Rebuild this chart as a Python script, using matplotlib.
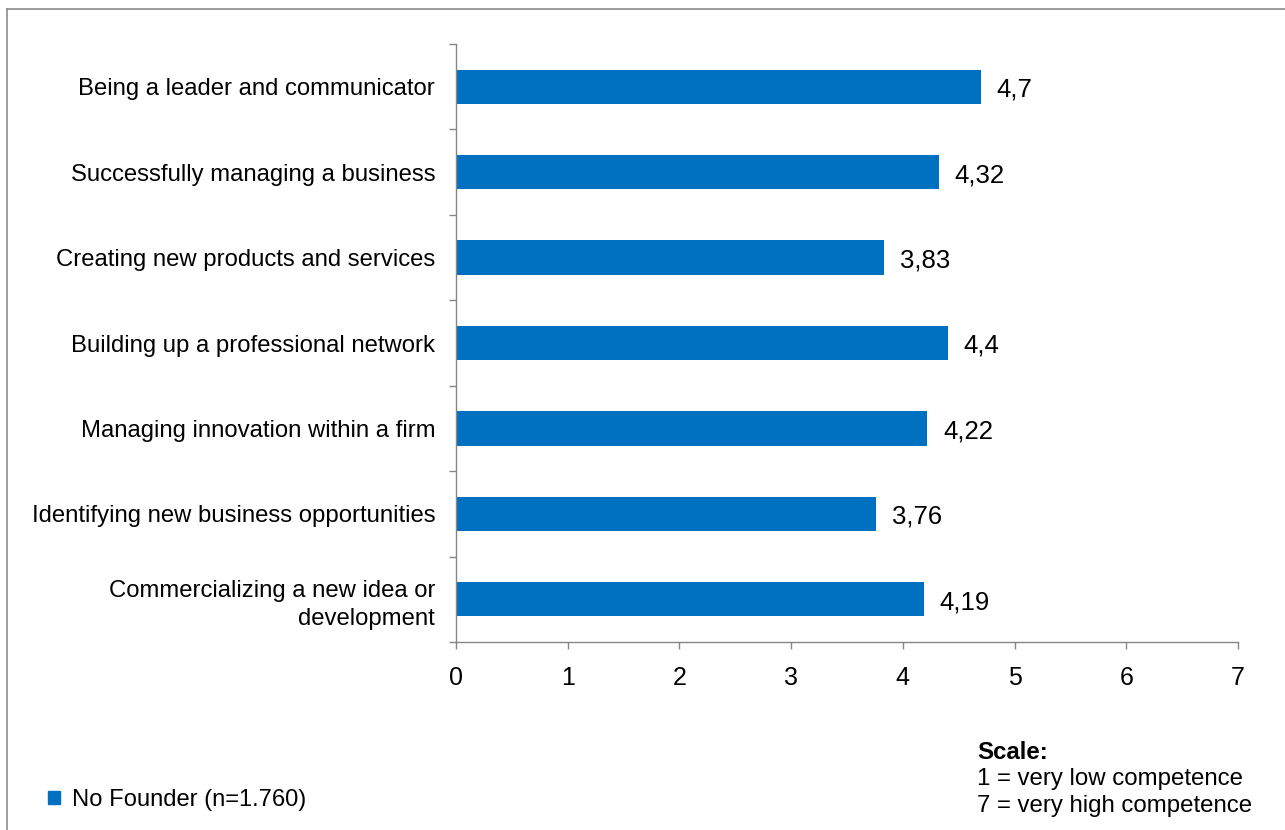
import numpy as np
import matplotlib
matplotlib.use("Agg")
import matplotlib.pyplot as plt
from matplotlib.lines import Line2D
from matplotlib.patches import Patch

plt.rcParams['font.family'] = ['Liberation Sans', 'DejaVu Sans']

# competence self-assessment, mean scores
categories = [
    "Being a leader and communicator",
    "Successfully managing a business",
    "Creating new products and services",
    "Building up a professional network",
    "Managing innovation within a firm",
    "Identifying new business opportunities",
    "Commercializing a new idea or\ndevelopment",
]
scores = [4.7, 4.32, 3.83, 4.4, 4.22, 3.76, 4.19]
xticks = [0, 1, 2, 3, 4, 5, 6, 7]
series_label = "No Founder (n=1.760)"
scale_lines = ["1 = very low competence", "7 = very high competence"]

bar_color = "#0070C0"
axis_gray = "#868686"

W, H = 1285, 830
fig = plt.figure(figsize=(W / 100, H / 100), dpi=100)
ax = fig.add_axes([456 / W, 1 - 642 / H, (1238 - 456) / W, (642 - 44) / H])

y = np.arange(len(categories))
ax.barh(y, scores, height=0.4, color=bar_color)

# value labels with decimal comma
for yi, v in zip(y, scores):
    ax.text(v + 0.14, yi + 0.035, str(v).replace('.', ','), va='center', ha='left', fontsize=18.5)

ax.set_xlim(0, 7)
ax.set_ylim(len(categories) - 0.5, -0.5)

ax.set_xticks(xticks)
ax.set_xticklabels([str(t) for t in xticks], fontsize=18)
ax.set_yticks(y)
ax.set_yticklabels(categories, fontsize=17.2)
for lab in ax.get_yticklabels():
    lab.set_multialignment('right')
    lab.set_linespacing(1.35)
ax.set_yticks(np.arange(len(categories) + 1) - 0.5, minor=True)

ax.tick_params(axis='y', which='major', length=0, pad=15)
ax.tick_params(axis='y', which='minor', length=5, width=1, color=axis_gray, direction='out')
ax.tick_params(axis='x', length=5, width=1, color=axis_gray, direction='out', pad=12)

for s in ['top', 'right']:
    ax.spines[s].set_visible(False)
for s in ['left', 'bottom']:
    ax.spines[s].set_color(axis_gray)
    ax.spines[s].set_linewidth(1)

# frame around the chart area (left and top edges)
fig.add_artist(Line2D([6.5 / W, 6.5 / W], [0, 1 - 9.5 / H], transform=fig.transFigure,
                      color="#8c8c8c", lw=1.2))
fig.add_artist(Line2D([6.5 / W, 1], [1 - 9.5 / H, 1 - 9.5 / H], transform=fig.transFigure,
                      color="#8c8c8c", lw=1.2))

fig.legend(handles=[Patch(color=bar_color, label=series_label)],
           loc='center left', bbox_to_anchor=(48 / W, 1 - 800 / H),
           frameon=False, fontsize=17.1, handlelength=0.5, handleheight=0.5,
           handletextpad=0.5, borderpad=0, borderaxespad=0)

fig.text(977 / W, 1 - 752 / H, "Scale:", fontsize=17.3, fontweight='bold', va='center', ha='left')
fig.text(977 / W, 1 - 779 / H, scale_lines[0], fontsize=17.3, va='center', ha='left')
fig.text(977 / W, 1 - 806 / H, scale_lines[1], fontsize=17.3, va='center', ha='left')

fig.savefig("out.png", dpi=100)
